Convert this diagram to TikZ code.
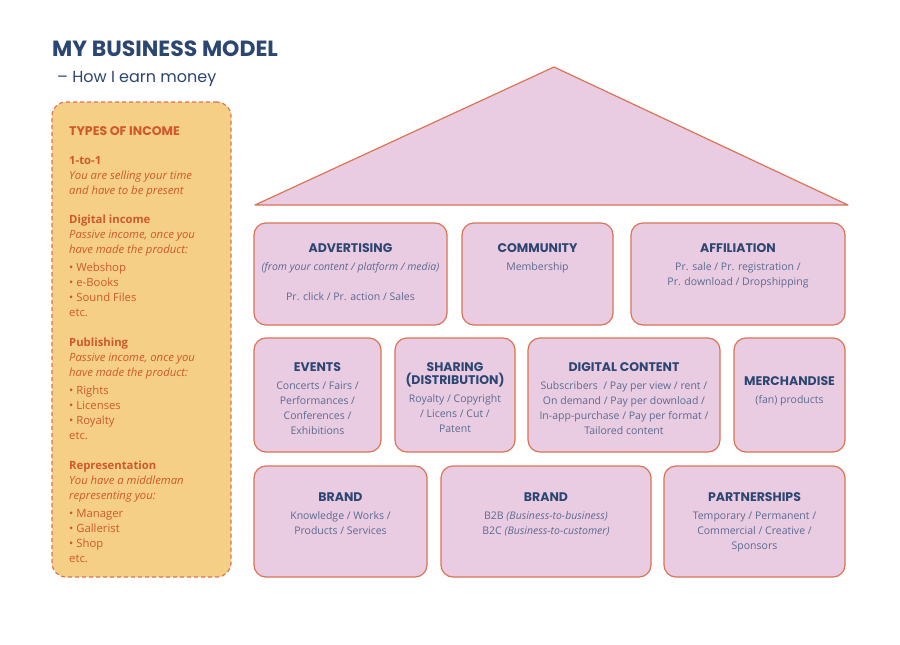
\documentclass[tikz,border=0pt]{standalone}
\usepackage{fontspec}
\setmainfont{Open Sans}
\newfontfamily\headfont{Poppins}
\usetikzlibrary{positioning}

\definecolor{navy}{HTML}{2C4672}
\definecolor{slate}{HTML}{5A6A90}
\definecolor{rust}{HTML}{D0582C}
\definecolor{roof}{HTML}{EACCE2}
\definecolor{rim}{HTML}{DB7355}
\definecolor{sand}{HTML}{F5CF86}

\newcommand{\hd}[1]{{\headfont\bfseries\fontsize{12.5}{14}\selectfont\color{navy}#1}}

\tikzset{
  card/.style={draw=rim, fill=roof, line width=1.2pt, rounded corners=12pt, inner sep=0pt},
  cardtxt/.style={inner sep=0pt, align=center, text=slate, font=\fontsize{10.5}{15}\selectfont},
  roofline/.style={draw=rim, fill=roof, line width=1.2pt, line join=round},
  panel/.style={draw=rim, fill=sand, line width=1.2pt, dash pattern=on 4pt off 3pt, rounded corners=14pt, inner sep=0pt}
}

\begin{document}
\begin{tikzpicture}[x=1pt,y=-1pt]
    \fill[white] (0,0) rectangle (900,645);

    % title
    \node[anchor=base west, inner sep=0pt, text=navy, font=\headfont\bfseries\fontsize{22}{26}\selectfont] (title) at (52,56) {MY BUSINESS MODEL};
    \node[anchor=base west, inner sep=0pt, text=navy, font=\headfont\fontsize{16}{18}\selectfont] (subtitle) at (57,82) {– How I earn money};

    % left panel
    \node[panel, minimum width=179pt, minimum height=475pt] (panel) at (141.5,339.5) {};
    \node[anchor=north west, inner sep=0pt, align=left, text=rust, font=\fontsize{11.3}{15}\selectfont] (income) at (69,126) {%
        {\headfont\bfseries\fontsize{12.5}{14}\selectfont TYPES OF INCOME}\\[14pt]
        \textbf{1-to-1}\\
        \textit{You are selling your time}\\
        \textit{and have to be present}\\[14pt]
        \textbf{Digital income}\\
        \textit{Passive income, once you}\\
        \textit{have made the product:}\\[3pt]
        • Webshop\\
        • e-Books\\
        • Sound Files\\
        etc.\\[15pt]
        \textbf{Publishing}\\
        \textit{Passive income, once you}\\
        \textit{have made the product:}\\[3pt]
        • Rights\\
        • Licenses\\
        • Royalty\\
        etc.\\[15pt]
        \textbf{Representation}\\
        \textit{You have a middleman}\\
        \textit{representing you:}\\[3pt]
        • Manager\\
        • Gallerist\\
        • Shop\\
        etc.};

    % roof
    \coordinate (top) at (554,67);
    \coordinate (eaveL) at (255,205);
    \coordinate (eaveR) at (848,205);
    \draw[roofline] (top) -- (eaveL) -- (eaveR) -- cycle;

    % row 1
    \node[card, minimum width=193pt, minimum height=102pt] (adv) at (350.5,274) {};
    \node[card, minimum width=151pt, minimum height=102pt] (com) at (537.5,274) {};
    \node[card, minimum width=214pt, minimum height=102pt] (aff) at (738,274) {};

    \node[cardtxt, below=21pt of adv.north] (advtxt) {\hd{ADVERTISING}\\[3pt] \textit{(from your content / platform / media)}\\[15pt] Pr. click / Pr. action / Sales};
    \node[cardtxt, below=21pt of com.north] (comtxt) {\hd{COMMUNITY}\\[3pt] Membership};
    \node[cardtxt, below=21pt of aff.north] (afftxt) {\hd{AFFILIATION}\\[3pt] Pr. sale / Pr. registration /\\ Pr. download / Dropshipping};

    % row 2
    \node[card, minimum width=127pt, minimum height=114pt] (evt) at (317.5,395) {};
    \node[card, minimum width=120pt, minimum height=114pt] (shr) at (455,395) {};
    \node[card, minimum width=192pt, minimum height=114pt] (dig) at (624,395) {};
    \node[card, minimum width=111pt, minimum height=114pt] (mer) at (789.5,395) {};

    \node[cardtxt, below=25pt of evt.north] (evttxt) {\hd{EVENTS}\\[3pt] Concerts / Fairs /\\ Performances /\\ Conferences /\\ Exhibitions};
    \node[cardtxt, below=25pt of shr.north] (shrtxt) {\hd{SHARING}\\[-2pt] \hd{(DISTRIBUTION)}\\[3pt] Royalty / Copyright\\ / Licens / Cut /\\ Patent};
    \node[cardtxt, below=25pt of dig.north] (digtxt) {\hd{DIGITAL CONTENT}\\[3pt] Subscribers~ / Pay per view / rent /\\ On demand / Pay per download /\\ In-app-purchase / Pay per format /\\ Tailored content};
    \node[cardtxt, below=39pt of mer.north] (mertxt) {\hd{MERCHANDISE}\\[3pt] (fan) products};

    % row 3
    \node[card, minimum width=173pt, minimum height=111pt] (brone) at (340.5,521.5) {};
    \node[card, minimum width=210pt, minimum height=111pt] (brtwo) at (546,521.5) {};
    \node[card, minimum width=181pt, minimum height=111pt] (par) at (754.5,521.5) {};

    \node[cardtxt, below=27pt of brone.north] (bronetxt) {\hd{BRAND}\\[3pt] Knowledge / Works /\\ Products / Services};
    \node[cardtxt, below=27pt of brtwo.north] (brtwotxt) {\hd{BRAND}\\[3pt] B2B \textit{(Business-to-business)}\\ B2C \textit{(Business-to-customer)}};
    \node[cardtxt, below=27pt of par.north] (partxt) {\hd{PARTNERSHIPS}\\[3pt] Temporary / Permanent /\\ Commercial / Creative /\\ Sponsors};
\end{tikzpicture}
\end{document}
